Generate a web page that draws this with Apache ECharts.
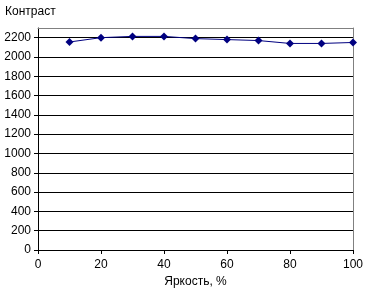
<!DOCTYPE html>
<html><head><meta charset="utf-8">
<script src="https://cdn.jsdelivr.net/npm/echarts@6/dist/echarts.min.js"></script>
<style>html,body{margin:0;padding:0;background:#fff}#c{width:366px;height:295px}</style>
</head><body><div id="c"></div>
<script>
const brightness = [10, 20, 30, 40, 50, 60, 70, 80, 90, 100];
const contrast = [2155, 2200, 2213, 2213, 2190, 2180, 2170, 2140, 2140, 2150];
const yTitle = 'Контраст';
const xTitle = 'Яркость, %';
const font = 'Liberation Sans';
const chart = echarts.init(document.getElementById('c'), null, {renderer: 'canvas'});
chart.setOption({
  animation: false,
  backgroundColor: '#fff',
  title: {text: yTitle, left: 0, top: 1, textStyle: {fontFamily: font, fontSize: 12, fontWeight: 'normal', color: '#000'}},
  grid: {left: 38, right: 10, top: 28, bottom: 45},
  xAxis: [{
    type: 'value', min: 0, max: 100, interval: 20,
    name: xTitle, nameLocation: 'middle', nameGap: 26,
    nameTextStyle: {fontFamily: font, fontSize: 12, color: '#000'},
    axisLine: {lineStyle: {color: '#000', width: 1}},
    axisTick: {show: true, length: 4, inside: false, lineStyle: {color: '#000'}},
    axisLabel: {fontFamily: font, fontSize: 12, color: '#000', margin: 9, formatter: v => String(v)},
    splitLine: {show: false}
  }, {
    type: 'value', min: 0, max: 100, position: 'top',
    axisLine: {show: true, onZero: false, lineStyle: {color: '#808080'}},
    axisTick: {show: false}, axisLabel: {show: false}, splitLine: {show: false}
  }],
  yAxis: [{
    type: 'value', min: 0, max: 2300, interval: 200,
    axisLine: {show: true, lineStyle: {color: '#000', width: 1}},
    axisTick: {show: true, length: 4, lineStyle: {color: '#000'}},
    axisLabel: {fontFamily: font, fontSize: 12, color: '#000', margin: 7, showMaxLabel: false, formatter: v => String(v)},
    splitLine: {show: true, showMaxLine: false, showMinLine: false, lineStyle: {color: '#000', width: 1}}
  }, {
    type: 'value', min: 0, max: 2300, position: 'right',
    axisLine: {show: true, onZero: false, lineStyle: {color: '#808080'}},
    axisTick: {show: false}, axisLabel: {show: false}, splitLine: {show: false}
  }],
  series: [{
    type: 'line',
    data: brightness.map((b, i) => [b, contrast[i]]),
    symbol: 'diamond', symbolSize: 8,
    lineStyle: {color: '#000080', width: 1},
    itemStyle: {color: '#000080'},
    z: 5
  }]
});
</script></body></html>
